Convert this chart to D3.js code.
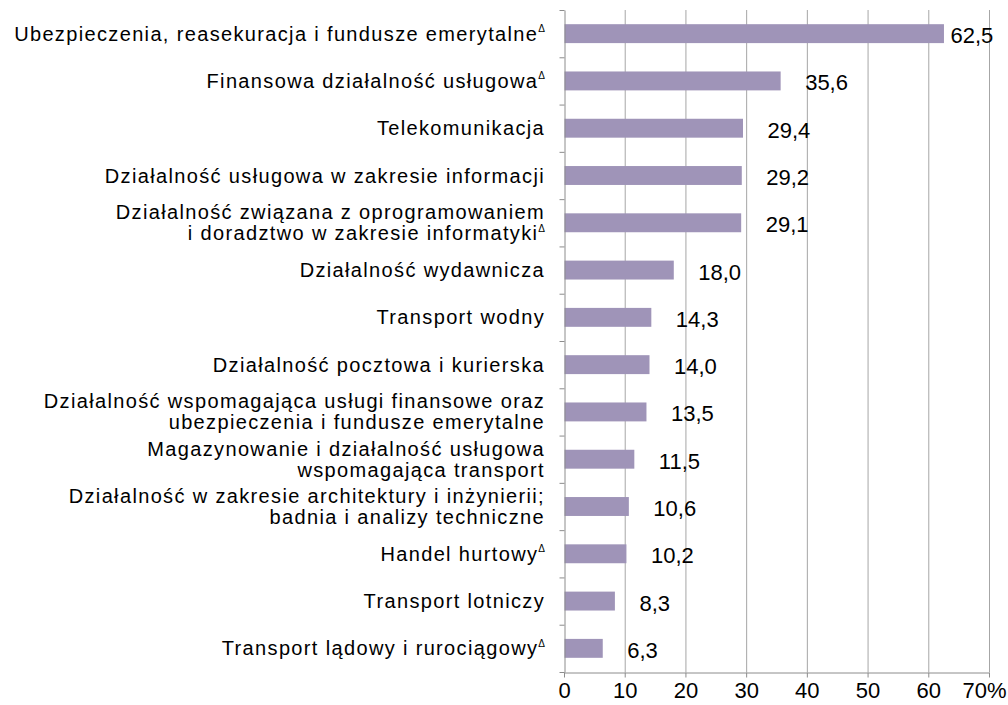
<!DOCTYPE html>
<html>
<head>
<meta charset="utf-8">
<script src="https://cdnjs.cloudflare.com/ajax/libs/d3/7.8.5/d3.min.js"></script>
<style>
  body { margin: 0; background: #fff; }
  svg { display: block; font-family: "Liberation Sans", Arial, sans-serif; }
</style>
</head>
<body>
<svg id="chart"></svg>
<script>
var categories = [
    'Ubezpieczenia, reasekuracja i fundusze emerytalneΔ',
    'Finansowa działalność usługowaΔ',
    'Telekomunikacja',
    'Działalność usługowa w zakresie informacji',
    'Działalność związana z oprogramowaniem\ni doradztwo w zakresie informatykiΔ',
    'Działalność wydawnicza',
    'Transport wodny',
    'Działalność pocztowa i kurierska',
    'Działalność wspomagająca usługi finansowe oraz\nubezpieczenia i fundusze emerytalne',
    'Magazynowanie i działalność usługowa\nwspomagająca transport',
    'Działalność w zakresie architektury i inżynierii;\nbadnia i analizy techniczne',
    'Handel hurtowyΔ',
    'Transport lotniczy',
    'Transport lądowy i rurociągowyΔ'
];
var values = [62.5, 35.6, 29.4, 29.2, 29.1, 18.0, 14.3, 14.0, 13.5, 11.5, 10.6, 10.2, 8.3, 6.3];
var xTicks = [0, 10, 20, 30, 40, 50, 60, 70];

var width = 1008,
    height = 705,
    plotLeft = 564,
    plotRight = 989,
    plotTop = 10,
    plotBottom = 672,
    barColor = '#9f94b8',
    gridColor = '#a6a6a6',
    axisColor = '#8c8c8c',
    labelSize = 20,
    numberSize = 22;

var svg = d3.select('svg#chart')
    .attr('width', width)
    .attr('height', height);

var x = d3.scaleLinear().domain([0, 70]).range([plotLeft, plotRight]);
var y = d3.scaleBand().domain(categories).range([plotTop, plotBottom])
    .paddingInner(0.6).paddingOuter(0.3);
var yEdges = d3.scaleLinear().domain([0, categories.length]).range([plotTop, plotBottom]);

// vertical gridlines
svg.append('g')
    .selectAll('line')
    .data(xTicks.slice(1))
    .enter().append('line')
    .attr('x1', function(d) { return x(d) + 0.5; })
    .attr('x2', function(d) { return x(d) + 0.5; })
    .attr('y1', plotTop)
    .attr('y2', plotBottom)
    .attr('stroke', gridColor)
    .attr('stroke-width', 1);

// bars
svg.append('g')
    .selectAll('rect')
    .data(values)
    .enter().append('rect')
    .attr('x', x(0) + 0.5)
    .attr('y', function(d, i) { return y(categories[i]); })
    .attr('width', function(d) { return x(d) - x(0); })
    .attr('height', y.bandwidth())
    .attr('fill', barColor);

// value labels
svg.append('g')
    .selectAll('text')
    .data(values)
    .enter().append('text')
    .attr('x', function(d) {
        var px = x(d) + 25;
        return px + 45 > width ? x(d) + 7 : px;
    })
    .attr('y', function(d, i) { return y(categories[i]) + y.bandwidth() / 2 + 2; })
    .attr('dominant-baseline', 'central')
    .attr('font-size', numberSize)
    .attr('fill', '#000')
    .text(function(d) { return d3.format('.1f')(d).replace('.', ','); });

// left axis: line with ticks at category boundaries
var yAxis = svg.append('g')
    .attr('transform', 'translate(' + (plotLeft + 0.5) + ',0)')
    .call(d3.axisLeft(yEdges)
        .tickValues(d3.range(categories.length + 1))
        .tickSize(5)
        .tickSizeOuter(0)
        .tickFormat(''));
yAxis.selectAll('path, line').attr('stroke', axisColor);

// bottom axis
var xAxis = svg.append('g')
    .attr('transform', 'translate(0,' + (plotBottom + 0.5) + ')')
    .call(d3.axisBottom(x)
        .tickValues(xTicks)
        .tickSize(5)
        .tickSizeOuter(0)
        .tickFormat(function(d) { return d === 70 ? '70%' : d; }));
xAxis.select('.domain').attr('stroke', axisColor);
xAxis.selectAll('line').attr('stroke', axisColor);
xAxis.selectAll('text')
    .attr('font-size', numberSize)
    .attr('font-family', '"Liberation Sans", Arial, sans-serif')
    .attr('fill', '#000')
    .attr('y', 9)
    .attr('dy', '0.75em');
xAxis.selectAll('.tick').filter(function(d) { return d === 70; }).select('text')
    .attr('text-anchor', 'end')
    .attr('x', 17);

// category labels
var lineHeight = 21;
var labels = svg.append('g')
    .selectAll('text')
    .data(categories)
    .enter().append('text')
    .attr('text-anchor', 'end')
    .attr('font-size', labelSize)
    .attr('letter-spacing', 1.35)
    .attr('fill', '#000');

labels.each(function(name) {
    var el = d3.select(this);
    var lines = name.split('\n');
    var cy = y(name) + y.bandwidth() / 2;
    var firstY = cy - (lines.length - 1) * lineHeight / 2;
    lines.forEach(function(line, k) {
        var delta = line.slice(-1) === 'Δ';
        el.append('tspan')
            .attr('x', 545)
            .attr('y', firstY + k * lineHeight)
            .attr('dominant-baseline', 'central')
            .text(delta ? line.slice(0, -1) : line);
        if (delta) {
            el.append('tspan')
                .attr('font-size', 10)
                .attr('letter-spacing', 0)
                .attr('dominant-baseline', 'central')
                .attr('dy', -5)
                .text('Δ');
        }
    });
});
</script>
</body>
</html>
